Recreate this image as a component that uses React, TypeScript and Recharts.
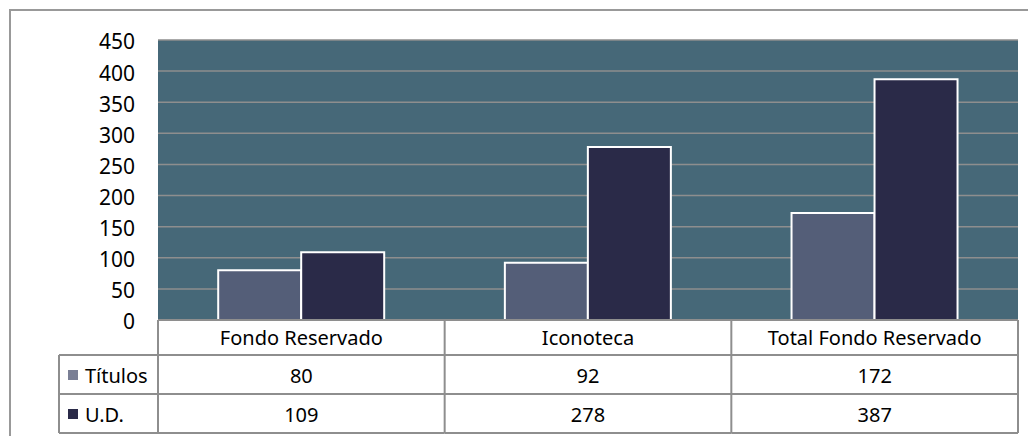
import { BarChart, Bar, XAxis, YAxis, CartesianGrid } from 'recharts';

const categories = ['Fondo Reservado', 'Iconoteca', 'Total Fondo Reservado'];
const titulos = [80, 92, 172];
const unidades = [109, 278, 387];
const seriesNames = ['Títulos', 'U.D.'];
const yTicks = [0, 50, 100, 150, 200, 250, 300, 350, 400, 450];

const data = categories.map((name, i) => ({ name, titulos: titulos[i], ud: unidades[i] }));

const FONT = '"Noto Sans", sans-serif';
const CHART_W = 1014;
const CHART_H = 428;
const MARGIN = { top: 32, right: 4, left: 0, bottom: 0 };
const Y_W = 150;
const X_H = 116;
const PLOT_W = CHART_W - MARGIN.left - MARGIN.right - Y_W;
const CELL_W = PLOT_W / categories.length;
const HEAD_H = 35;
const ROW_H = 39;
const LEGEND_W = 99;
const LINE = '#8e8e8e';
const BG = '#466878';
const C_TIT = '#545e78';
const C_UD = '#2a2a48';
const SWATCH = ['#7a7f95', C_UD];

// celda de la tabla de datos, una columna por categoría
const TableTick = (props: any) => {
  const { x, y, payload } = props;
  const i = payload.index;
  const left = x - CELL_W / 2;
  const right = x + CELL_W / 2;
  const rows = [titulos[i], unidades[i]];
  const bottom = y + HEAD_H + ROW_H * 2;
  return (
    <g fontFamily={FONT} fontSize={20} fill="#000">
      <line x1={right} y1={y} x2={right} y2={bottom} stroke={LINE} strokeWidth={2} />
      {i === 0 && <line x1={left} y1={y} x2={left} y2={bottom} stroke={LINE} strokeWidth={2} />}
      <line x1={left} y1={y + HEAD_H} x2={right} y2={y + HEAD_H} stroke={LINE} strokeWidth={2} />
      <line x1={left} y1={y + HEAD_H + ROW_H} x2={right} y2={y + HEAD_H + ROW_H} stroke={LINE} strokeWidth={2} />
      <line x1={left} y1={bottom} x2={right} y2={bottom} stroke={LINE} strokeWidth={2} />
      <text x={x} y={y + HEAD_H / 2} textAnchor="middle" dominantBaseline="central">{payload.value}</text>
      {rows.map((v, r) => (
        <text key={r} x={x} y={y + HEAD_H + ROW_H * r + ROW_H / 2 + 1} textAnchor="middle" dominantBaseline="central">
          {v}
        </text>
      ))}
      {i === 0 && (
        <g>
          <line x1={left - LEGEND_W} y1={y + HEAD_H} x2={left} y2={y + HEAD_H} stroke={LINE} strokeWidth={2} />
          <line x1={left - LEGEND_W} y1={y + HEAD_H + ROW_H} x2={left} y2={y + HEAD_H + ROW_H} stroke={LINE} strokeWidth={2} />
          <line x1={left - LEGEND_W} y1={bottom} x2={left} y2={bottom} stroke={LINE} strokeWidth={2} />
          <line x1={left - LEGEND_W} y1={y + HEAD_H} x2={left - LEGEND_W} y2={bottom} stroke={LINE} strokeWidth={2} />
          {seriesNames.map((s, r) => (
            <g key={s}>
              <rect x={left - LEGEND_W + 9} y={y + HEAD_H + ROW_H * r + 15} width={10} height={10} fill={SWATCH[r]} />
              <text x={left - LEGEND_W + 26} y={y + HEAD_H + ROW_H * r + ROW_H / 2 + 1} dominantBaseline="central">{s}</text>
            </g>
          ))}
        </g>
      )}
    </g>
  );
};

export default function App() {
  return (
    <div style={{ position: 'relative', width: CHART_W, height: CHART_H }}>
      <div
        style={{
          position: 'absolute',
          left: 1,
          top: 1,
          width: 1040,
          height: 440,
          border: '2px solid #999',
          boxSizing: 'border-box',
        }}
      />
      <div style={{ position: 'absolute', left: 0, top: 0 }}>
        <BarChart width={CHART_W} height={CHART_H} data={data} margin={MARGIN} barCategoryGap="21%" barGap={0}>
          <CartesianGrid vertical={false} stroke={LINE} strokeWidth={1.5} fill={BG} fillOpacity={1} />
          <YAxis
            width={Y_W}
            domain={[0, 450]}
            ticks={yTicks}
            interval={0}
            axisLine={false}
            tickLine={false}
            tickSize={0}
            tickMargin={23}
            tick={{ fontFamily: FONT, fontSize: 21, fill: '#000', dy: 2 }}
          />
          <XAxis
            dataKey="name"
            height={X_H}
            interval={0}
            axisLine={{ stroke: LINE, strokeWidth: 2 }}
            tickLine={false}
            tickSize={0}
            tickMargin={0}
            tick={<TableTick />}
          />
          <Bar dataKey="titulos" name={seriesNames[0]} fill={C_TIT} stroke="#fff" strokeWidth={2} isAnimationActive={false} />
          <Bar dataKey="ud" name={seriesNames[1]} fill={C_UD} stroke="#fff" strokeWidth={2} isAnimationActive={false} />
        </BarChart>
      </div>
    </div>
  );
}
